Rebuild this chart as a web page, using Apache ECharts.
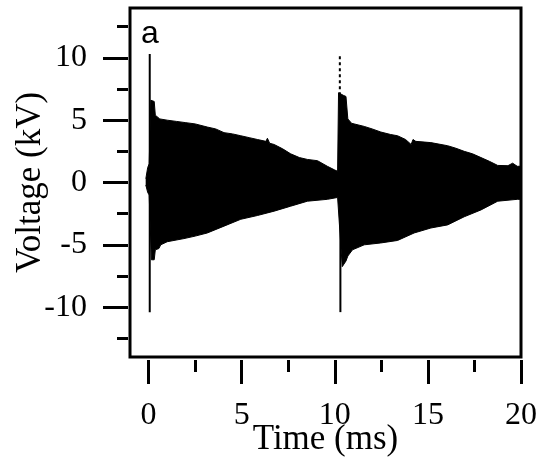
<!DOCTYPE html>
<html>
<head>
<meta charset="utf-8">
<script src="https://cdn.jsdelivr.net/npm/echarts@6/dist/echarts.min.js"></script>
<style>html,body{margin:0;padding:0;background:#fff}#c{width:544px;height:462px}</style>
</head>
<body>
<div id="c"></div>
<script>
// Upper envelope of the oscillation (time in ms, voltage in kV)
const upperTime = [-0.15, -0.05, 0.03, 0.12, 0.3, 0.36, 0.6, 1.0, 1.5, 2.0, 2.5, 3.15, 3.6, 4.05, 4.5, 4.95, 5.4, 5.84, 6.3, 6.38, 6.5, 6.74, 7.2, 7.63, 8.1, 8.53, 9.07, 9.6, 10.0, 10.15, 10.2, 10.45, 10.6, 10.7, 10.9, 11.58, 12.0, 12.47, 13.0, 13.37, 13.8, 14.1, 14.2, 14.35, 15.16, 16.06, 16.5, 16.95, 17.4, 17.85, 18.3, 18.75, 19.3, 19.55, 19.8, 20.0];
const upperVolt = [0.3, 1.2, 1.5, 6.6, 6.5, 5.4, 5.1, 5.0, 4.9, 4.8, 4.7, 4.45, 4.3, 4.0, 3.9, 3.75, 3.6, 3.45, 3.3, 3.55, 3.15, 3.05, 2.7, 2.3, 2.0, 1.85, 1.75, 1.3, 1.0, 0.9, 7.2, 7.0, 6.9, 5.1, 4.75, 4.5, 4.3, 4.05, 3.85, 3.75, 3.45, 3.05, 3.45, 3.3, 3.2, 2.95, 2.75, 2.5, 2.3, 2.0, 1.7, 1.37, 1.35, 1.55, 1.3, 1.3];
// Lower envelope
const lowerTime = [-0.15, -0.05, 0.03, 0.15, 0.3, 0.36, 0.55, 0.65, 1.0, 1.9, 2.5, 3.15, 4.05, 4.95, 5.84, 6.74, 7.63, 8.53, 9.6, 10.15, 10.25, 10.4, 10.6, 10.7, 10.95, 11.58, 12.47, 13.37, 14.26, 15.16, 16.06, 16.95, 17.85, 18.75, 19.8, 20.0];
const lowerVolt = [-0.2, -0.8, -1.0, -6.2, -6.2, -5.4, -5.3, -5.0, -4.75, -4.5, -4.3, -4.05, -3.5, -2.95, -2.65, -2.3, -1.9, -1.5, -1.35, -1.2, -1.2, -6.75, -6.3, -5.9, -5.4, -5.0, -4.85, -4.65, -4.05, -3.65, -3.4, -2.75, -2.2, -1.5, -1.35, -1.35];
// Breakdown spikes
const spike1Time = [0.06, 0.06];
const spike1Volt = [-10.4, 10.3];
const spike2LowTime = [10.3, 10.3];
const spike2LowVolt = [-10.4, 0];
const spike2HighTime = [10.27, 10.27];
const spike2HighVolt = [7.0, 10.3];
// Tick labels
const xMajor = [0, 5, 10, 15, 20];
const xMinor = [2.5, 7.5, 12.5, 17.5];
const yMajor = [-10, -5, 0, 5, 10];
const yMinor = [-12.5, -7.5, -2.5, 2.5, 7.5, 12.5];

const zip = (a, b) => a.map((v, i) => [v, b[i]]);
const serif = 'Liberation Serif';

const chart = echarts.init(document.getElementById('c'), null, {renderer: 'canvas'});
const xBase = {type: 'value', min: -1, max: 20, gridIndex: 0, position: 'bottom', splitLine: {show: false}, axisLine: {show: false, onZero: false}, offset: 3};
const yBase = {type: 'value', min: -14, max: 14, gridIndex: 0, position: 'left', splitLine: {show: false}, axisLine: {show: false, onZero: false}, offset: 2};
chart.setOption({
  animation: false,
  backgroundColor: '#fff',
  grid: {left: 130, right: 23, top: 8, bottom: 105, containLabel: false, outerBoundsMode: 'none', show: true, borderColor: '#000', borderWidth: 3, backgroundColor: 'transparent'},
  xAxis: [
    Object.assign({}, xBase, {
      axisTick: {show: true, length: 24, lineStyle: {color: '#000', width: 3}, customValues: xMajor},
      axisLabel: {show: true, customValues: xMajor, color: '#000', fontFamily: serif, fontSize: 32, margin: 40},
      name: 'Time (ms)', nameLocation: 'middle', nameGap: 62, nameMoveOverlap: false,
      nameTextStyle: {color: '#000', fontFamily: serif, fontSize: 35}
    }),
    Object.assign({}, xBase, {
      axisTick: {show: true, length: 12, lineStyle: {color: '#000', width: 3}, customValues: xMinor},
      axisLabel: {show: false, customValues: xMinor}
    })
  ],
  yAxis: [
    Object.assign({}, yBase, {
      axisTick: {show: true, length: 25, lineStyle: {color: '#000', width: 3}, customValues: yMajor},
      axisLabel: {show: true, customValues: yMajor, color: '#000', fontFamily: serif, fontSize: 32, margin: 41},
      name: 'Voltage (kV)', nameLocation: 'middle', nameGap: 80, nameRotate: 90, nameMoveOverlap: false,
      nameTextStyle: {color: '#000', fontFamily: serif, fontSize: 35}
    }),
    Object.assign({}, yBase, {
      axisTick: {show: true, length: 11, lineStyle: {color: '#000', width: 3}, customValues: yMinor},
      axisLabel: {show: false, customValues: yMinor}
    })
  ],
  series: [
    {type: 'line', data: zip(upperTime, upperVolt), symbol: 'none', lineStyle: {color: '#000', width: 1}, areaStyle: {color: '#000', opacity: 1, origin: -0.3}},
    {type: 'line', data: zip(lowerTime, lowerVolt), symbol: 'none', lineStyle: {color: '#000', width: 1}, areaStyle: {color: '#000', opacity: 1, origin: 0.3}},
    {type: 'line', data: zip(spike1Time, spike1Volt), symbol: 'none', lineStyle: {color: '#000', width: 2}},
    {type: 'line', data: zip(spike2LowTime, spike2LowVolt), symbol: 'none', lineStyle: {color: '#000', width: 2}},
    {type: 'line', data: zip(spike2HighTime, spike2HighVolt), symbol: 'none', lineStyle: {color: '#000', width: 2, type: [3, 3]}}
  ],
  graphic: [
    {type: 'text', left: 141, top: 18, style: {text: 'a', font: '32px "Liberation Sans"', fill: '#000'}}
  ]
});
</script>
</body>
</html>
